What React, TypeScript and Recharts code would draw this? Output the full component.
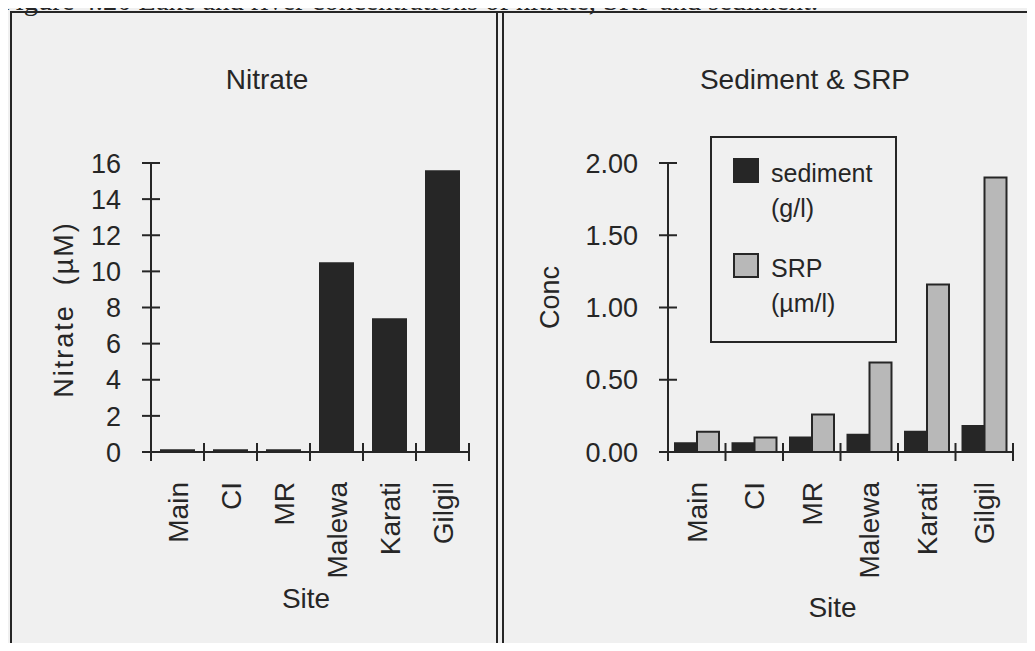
import { BarChart, Bar, XAxis, YAxis, Legend, Label } from "recharts";

// ─── Data ────────────────────────────────────────

const sites = ["Main", "CI", "MR", "Malewa", "Karati", "Gilgil"];
const nitrate = [0.15, 0.15, 0.15, 10.5, 7.4, 15.6];
const sediment = [0.06, 0.06, 0.1, 0.12, 0.14, 0.18];
const srp = [0.14, 0.1, 0.26, 0.62, 1.16, 1.9];
const nitrateTicks = [0, 2, 4, 6, 8, 10, 12, 14, 16];
const concTicks = [0, 0.5, 1, 1.5, 2];

const nitrateData = sites.map((site, i) => ({ site, nitrate: nitrate[i] }));
const concData = sites.map((site, i) => ({ site, sediment: sediment[i], srp: srp[i] }));

// ─── Style ───────────────────────────────────────

const INK = "#262626";
const GREY = "#b8b8b8";
const PAPER = "#f0f0f0";
const FONT = "'Liberation Sans', Arial, Helvetica, sans-serif";

// ─── Axis ticks ──────────────────────────────────

function YTick(props: any) {
  const { x, y, payload, digits } = props;
  const label = digits ? Number(payload.value).toFixed(digits) : String(payload.value);
  return (
    <g>
      <line x1={x - 9} x2={x + 9} y1={y} y2={y} stroke={INK} strokeWidth={2} />
      <text x={x - 30} y={y} dy="0.36em" textAnchor="end" fontSize={27} fill={INK} fontFamily={FONT}>
        {label}
      </text>
    </g>
  );
}

function XTick(props: any) {
  const { x, y, payload, index } = props;
  const half = payload.offset ?? 0;
  const last = index === sites.length - 1;
  return (
    <g>
      <line x1={x - half} x2={x - half} y1={y - 9} y2={y + 9} stroke={INK} strokeWidth={2} />
      {last && <line x1={x + half} x2={x + half} y1={y - 9} y2={y + 9} stroke={INK} strokeWidth={2} />}
      <text
        x={x}
        y={y + 30}
        dy="0.36em"
        textAnchor="end"
        transform={`rotate(-90 ${x} ${y + 30})`}
        fontSize={28}
        fill={INK}
        fontFamily={FONT}
      >
        {payload.value}
      </text>
    </g>
  );
}

function yLabel(text: string, dx: number, dy: number, spacing: number) {
  return ({ viewBox }: any) => {
    const cx = viewBox.x + dx;
    const cy = viewBox.y + viewBox.height / 2 + dy;
    return (
      <text
        x={cx}
        y={cy}
        dy="0.36em"
        textAnchor="middle"
        transform={`rotate(-90 ${cx} ${cy})`}
        fontSize={27}
        letterSpacing={spacing}
        fill={INK}
        fontFamily={FONT}
        style={{ whiteSpace: "pre" }}
      >
        {text}
      </text>
    );
  };
}

function xLabel(dx: number, y: number) {
  return ({ viewBox }: any) => (
    <text
      x={viewBox.x + viewBox.width / 2 + dx}
      y={y}
      textAnchor="middle"
      fontSize={28}
      fill={INK}
      fontFamily={FONT}
    >
      Site
    </text>
  );
}

// ─── Legend ──────────────────────────────────────

function ConcLegend() {
  const items = [
    { fill: INK, top: "sediment", bottom: "(g/l)" },
    { fill: GREY, top: "SRP", bottom: "(\u00b5m/l)" },
  ];
  return (
    <div
      style={{
        boxSizing: "border-box",
        width: 187,
        height: 207,
        border: `2px solid ${INK}`,
        padding: "18px 0 0 21px",
        fontFamily: FONT,
        fontSize: 25,
        color: INK,
        lineHeight: "35px",
      }}
    >
      {items.map((it) => (
        <div key={it.top} style={{ display: "flex", marginBottom: 25 }}>
          <div
            style={{
              boxSizing: "border-box",
              width: 26,
              height: 25,
              marginTop: 2,
              background: it.fill,
              border: `2px solid ${INK}`,
            }}
          />
          <div style={{ marginLeft: 12 }}>
            <div>{it.top}</div>
            <div>{it.bottom}</div>
          </div>
        </div>
      ))}
    </div>
  );
}

// ─── Component ───────────────────────────────────

export default function App() {
  const title = {
    position: "absolute" as const,
    top: 64,
    fontFamily: FONT,
    fontSize: 28,
    color: INK,
    transform: "translateX(-50%)",
    whiteSpace: "nowrap" as const,
  };

  return (
    <div
      style={{
        position: "relative",
        width: 1035,
        height: 651,
        margin: -8,
        overflow: "hidden",
        background: PAPER,
      }}
    >
      <div
        style={{
          position: "absolute",
          left: 0,
          top: -15,
          fontFamily: "'Liberation Serif', 'Times New Roman', serif",
          fontSize: 28.5,
          color: INK,
          whiteSpace: "nowrap",
        }}
      >
        Figure 4.20 Lake and river concentrations of nitrate, SRP and sediment.
      </div>

      {/* panel frames */}
      <div style={{ position: "absolute", left: 10, top: 11, width: 1025, height: 0, borderTop: `2px solid ${INK}` }} />
      <div style={{ position: "absolute", left: 10, top: 11, width: 0, height: 660, borderLeft: `2px solid ${INK}` }} />
      <div style={{ position: "absolute", left: 496, top: 11, width: 0, height: 660, borderLeft: `2px solid ${INK}` }} />
      <div style={{ position: "absolute", left: 502, top: 11, width: 0, height: 660, borderLeft: `2px solid ${INK}` }} />

      <div style={{ ...title, left: 267 }}>Nitrate</div>
      <div style={{ ...title, left: 805 }}>Sediment &amp; SRP</div>

      <div style={{ position: "absolute", left: 0, top: 0 }}>
        <BarChart
          width={500}
          height={651}
          data={nitrateData}
          margin={{ top: 163, right: 31, bottom: 159, left: 91 }}
        >
          <XAxis
            dataKey="site"
            height={40}
            tickSize={0}
            tickMargin={0}
            tickLine={false}
            axisLine={{ stroke: INK, strokeWidth: 2 }}
            tick={<XTick />}
            interval={0}
          >
            <Label content={xLabel(-4, 608)} />
          </XAxis>
          <YAxis
            width={60}
            domain={[0, 16]}
            ticks={nitrateTicks}
            interval={0}
            tickSize={0}
            tickMargin={0}
            tickLine={false}
            axisLine={{ stroke: INK, strokeWidth: 2 }}
            tick={<YTick />}
          >
            <Label content={yLabel("Nitrate  (\u00b5M)", -28, 2, 2)} />
          </YAxis>
          <Bar dataKey="nitrate" fill={INK} barSize={35} isAnimationActive={false} />
        </BarChart>
      </div>

      <div style={{ position: "absolute", left: 502, top: 0 }}>
        <BarChart
          width={533}
          height={651}
          data={concData}
          margin={{ top: 163, right: 22, bottom: 159, left: 86 }}
          barGap={0}
        >
          <XAxis
            dataKey="site"
            height={40}
            tickSize={0}
            tickMargin={0}
            tickLine={false}
            axisLine={{ stroke: INK, strokeWidth: 2 }}
            tick={<XTick />}
            interval={0}
          >
            <Label content={xLabel(-8, 617)} />
          </XAxis>
          <YAxis
            width={80}
            domain={[0, 2]}
            ticks={concTicks}
            interval={0}
            tickSize={0}
            tickMargin={0}
            tickLine={false}
            axisLine={{ stroke: INK, strokeWidth: 2 }}
            tick={<YTick digits={2} />}
          >
            <Label content={yLabel("Conc", -39, -10, 0)} />
          </YAxis>
          <Legend
            layout="vertical"
            align="center"
            verticalAlign="middle"
            wrapperStyle={{ left: 208, top: 136, width: 187, height: 207 }}
            content={<ConcLegend />}
          />
          <Bar
            dataKey="sediment"
            name="sediment (g/l)"
            fill={INK}
            stroke={INK}
            strokeWidth={2}
            barSize={22}
            isAnimationActive={false}
          />
          <Bar
            dataKey="srp"
            name="SRP (\u00b5m/l)"
            fill={GREY}
            stroke={INK}
            strokeWidth={2}
            barSize={22}
            isAnimationActive={false}
          />
        </BarChart>
      </div>
    </div>
  );
}
